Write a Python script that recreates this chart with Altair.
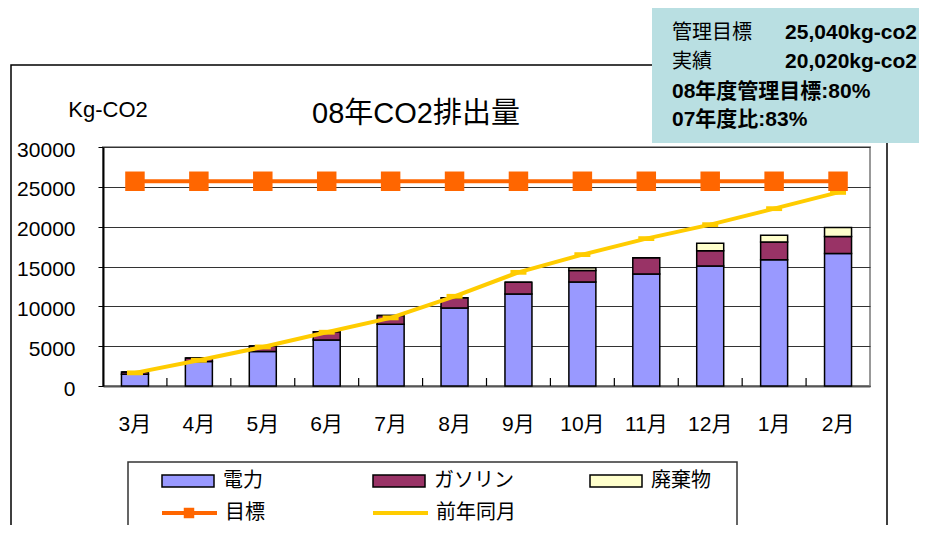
import altair as alt
import pandas as pd

# ---------------- data ----------------
months = ["3月", "4月", "5月", "6月", "7月", "8月", "9月", "10月", "11月", "12月", "1月", "2月"]
types = ["電力", "ガソリン", "廃棄物"]
denryoku = [1470, 3060, 4320, 5780, 7750, 9780, 11560, 13050, 14070, 15070, 15860, 16620]
gasoline = [300, 470, 700, 1020, 1100, 1300, 1460, 1450, 2040, 1920, 2220, 2160]
haikibutsu = [0, 0, 0, 0, 0, 0, 0, 350, 0, 920, 830, 1130]
mokuhyo = [25700] * 12
zennen = [1650, 3230, 4900, 6750, 8550, 11260, 14270, 16490, 18500, 20250, 22260, 24300]

y_ticks = [0, 5000, 10000, 15000, 20000, 25000, 30000]
title_text = "08年CO2排出量"
unit_text = "Kg-CO2"
line_labels = ["目標", "前年同月"]
info_rows = [("管理目標", "25,040kg-co2"), ("実績", "20,020kg-co2")]
info_bold = ["08年度管理目標:80%", "07年度比:83%"]

bar_colors = ["#9999FF", "#993366", "#FFFFCC"]
target_color = "#FF6600"
prev_color = "#FFCC00"
box_color = "#B9DFE2"

JP = "Noto Sans CJK JP"
LAT = "Liberation Sans, Noto Sans CJK JP"

# ---------------- tables ----------------
rows = []
for i, m in enumerate(months):
    for k, (t, arr) in enumerate(zip(types, [denryoku, gasoline, haikibutsu])):
        rows.append({"month": m, "type": t, "value": arr[i], "ord": k})
bars_df = pd.DataFrame(rows)
target_df = pd.DataFrame({"month": months, "value": mokuhyo})
prev_df = pd.DataFrame({"month": months, "value": zennen})
tick_df = pd.DataFrame({"month": months[1:]})
one = pd.DataFrame({"k": [0]})

W, H = 767, 239


def xenc(**kw):
    return alt.X(
        "month:N", sort=months,
        scale=alt.Scale(paddingInner=0, paddingOuter=0),
        axis=alt.Axis(title=None, labelAngle=0, ticks=False, labelFontSize=21,
                      labelFont=LAT, labelPadding=27, domainColor="#555",
                      domainWidth=2, labelColor="black"),
        **kw)


def yenc(**kw):
    return alt.Y(
        "value:Q",
        scale=alt.Scale(domain=[0, 30000], nice=False),
        axis=alt.Axis(title=None, values=y_ticks, format="d", labelFontSize=21,
                      labelFont="Liberation Sans", tickSize=5, labelPadding=23,
                      gridColor="#333", gridWidth=1, domainColor="black",
                      domainWidth=2, tickColor="black", labelColor="black",
                      labelOffset=3),
        **kw)


layers = []

# outer frame
layers.append(alt.Chart(one).mark_rect(fill="white", fillOpacity=0, stroke="black", strokeWidth=1.5).encode(
    x=alt.value(-92), x2=alt.value(784), y=alt.value(-82), y2=alt.value(430)))

# info box
layers.append(alt.Chart(one).mark_rect(fill=box_color).encode(
    x=alt.value(549), x2=alt.value(840), y=alt.value(-139), y2=alt.value(-4)))
for i, (lab, val) in enumerate(info_rows):
    yy = -114 + i * 29
    layers.append(alt.Chart(one).mark_text(align="left", baseline="middle", font=JP, fontSize=20, color="black").encode(
        x=alt.value(569), y=alt.value(yy), text=alt.value(lab)))
    layers.append(alt.Chart(one).mark_text(align="right", baseline="middle", font="Liberation Sans", fontSize=21,
                                           fontWeight="bold", color="black").encode(
        x=alt.value(814), y=alt.value(yy), text=alt.value(val)))
for i, lab in enumerate(info_bold):
    yy = -55 + i * 28
    layers.append(alt.Chart(one).mark_text(align="left", baseline="middle", font=LAT, fontSize=21,
                                           fontWeight="bold", color="black").encode(
        x=alt.value(569), y=alt.value(yy), text=alt.value(lab)))

# titles
layers.append(alt.Chart(one).mark_text(align="center", baseline="middle", font=LAT, fontSize=29, color="black").encode(
    x=alt.value(313), y=alt.value(-33), text=alt.value(title_text)))
layers.append(alt.Chart(one).mark_text(align="center", baseline="middle", font="Liberation Sans", fontSize=22, color="black").encode(
    x=alt.value(5), y=alt.value(-37), text=alt.value(unit_text)))

# bars
layers.append(alt.Chart(bars_df).mark_bar(size=27, stroke="black", strokeWidth=1.5).encode(
    x=xenc(), y=yenc(stack="zero"),
    color=alt.Color("type:N", scale=alt.Scale(domain=types, range=bar_colors), legend=None),
    order=alt.Order("ord:Q", sort="ascending")))

# category boundary ticks (inside)
layers.append(alt.Chart(tick_df).mark_rule(color="black", strokeWidth=1.2).encode(
    x=xenc(bandPosition=0), y=alt.value(H), y2=alt.value(H - 8)))

# previous year line
layers.append(alt.Chart(prev_df).mark_line(color=prev_color, strokeWidth=4).encode(x=xenc(), y=yenc()))
layers.append(alt.Chart(prev_df).mark_point(shape="M-1,-0.3H1V0.3H-1Z", filled=True, size=256,
                                            color=prev_color, opacity=1).encode(x=xenc(), y=yenc()))

# target line
layers.append(alt.Chart(target_df).mark_line(color=target_color, strokeWidth=4).encode(x=xenc(), y=yenc()))
layers.append(alt.Chart(target_df).mark_point(shape="square", filled=True, size=380,
                                              color=target_color, opacity=1).encode(x=xenc(), y=yenc()))

# legend (drawn)
layers.append(alt.Chart(one).mark_rect(fill="white", stroke="#333", strokeWidth=1.5).encode(
    x=alt.value(25), x2=alt.value(634), y=alt.value(315), y2=alt.value(430)))
col_x = [59, 270, 487]
for t, c, cx in zip(types, bar_colors, col_x):
    layers.append(alt.Chart(one).mark_rect(fill=c, stroke="black", strokeWidth=1.5).encode(
        x=alt.value(cx), x2=alt.value(cx + 52), y=alt.value(328), y2=alt.value(340)))
    layers.append(alt.Chart(one).mark_text(align="left", baseline="middle", font=JP, fontSize=20, color="black").encode(
        x=alt.value(cx + 61), y=alt.value(334), text=alt.value(t)))
for lab, c, cx in zip(line_labels, [target_color, prev_color], col_x[:2]):
    layers.append(alt.Chart(one).mark_rule(color=c, strokeWidth=4).encode(
        x=alt.value(cx), x2=alt.value(cx + 55), y=alt.value(366)))
    layers.append(alt.Chart(one).mark_text(align="left", baseline="middle", font=JP, fontSize=20, color="black").encode(
        x=alt.value(cx + 63), y=alt.value(366), text=alt.value(lab)))
layers.append(alt.Chart(one).mark_point(shape="square", filled=True, size=110, color=target_color, opacity=1).encode(
    x=alt.value(col_x[0] + 27), y=alt.value(366)))

chart = alt.layer(*layers).properties(
    width=W, height=H,
    autosize=alt.AutoSizeParams(type="none"),
    padding={"left": 95, "top": 139, "right": 49, "bottom": 139},
    background="white",
).configure_view(stroke="#999", strokeWidth=2)

chart.save("out.html", embed_options={"renderer": "svg", "actions": False})
